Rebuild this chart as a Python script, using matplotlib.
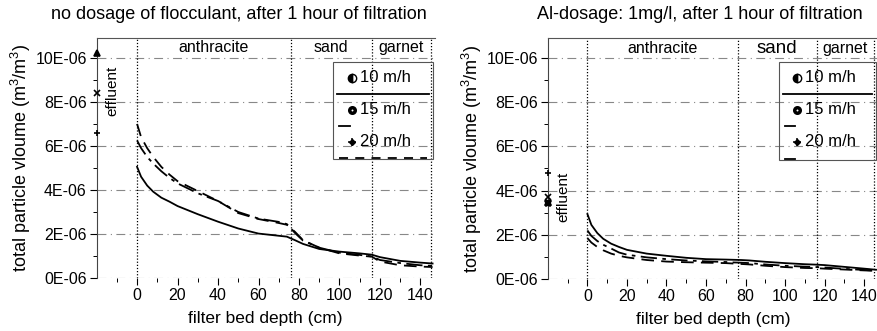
import matplotlib
matplotlib.use("Agg")
import matplotlib.pyplot as plt
from matplotlib.ticker import FixedLocator, FuncFormatter
from matplotlib.patches import Rectangle

plt.rcParams['font.family'] = ['Liberation Sans', 'DejaVu Sans']
plt.rcParams['mathtext.fontset'] = 'custom'
plt.rcParams['mathtext.rm'] = 'Liberation Sans'
plt.rcParams['mathtext.it'] = 'Liberation Sans'

# ---------------- data ----------------
depth = [0, 2, 5, 8, 12, 16, 20, 30, 40, 50, 60, 70, 74, 78, 82, 90, 100, 110, 116, 120, 130, 140, 146]

# left panel: no dosage of flocculant (values in 1E-06 m3/m3)
left_10 = [5.05, 4.6, 4.2, 3.92, 3.65, 3.47, 3.27, 2.9, 2.56, 2.25, 2.02, 1.92, 1.88, 1.72, 1.55, 1.32, 1.2, 1.12, 1.06, 0.95, 0.78, 0.7, 0.66]
left_15 = [6.25, 5.9, 5.5, 5.2, 4.85, 4.55, 4.3, 3.85, 3.5, 3.0, 2.7, 2.55, 2.45, 2.05, 1.7, 1.38, 1.15, 1.05, 0.98, 0.82, 0.68, 0.58, 0.55]
left_20 = [7.0, 6.4, 5.9, 5.5, 5.05, 4.7, 4.4, 3.95, 3.5, 2.95, 2.68, 2.5, 2.42, 2.1, 1.72, 1.38, 1.12, 1.02, 0.97, 0.75, 0.58, 0.52, 0.5]

# right panel: Al-dosage 1 mg/l
right_10 = [2.94, 2.45, 2.08, 1.82, 1.6, 1.45, 1.32, 1.15, 1.05, 0.96, 0.9, 0.88, 0.87, 0.86, 0.84, 0.78, 0.72, 0.67, 0.65, 0.63, 0.55, 0.47, 0.42]
right_15 = [2.2, 1.95, 1.72, 1.55, 1.38, 1.2, 1.1, 0.98, 0.9, 0.84, 0.8, 0.77, 0.75, 0.74, 0.72, 0.66, 0.6, 0.56, 0.54, 0.52, 0.46, 0.41, 0.38]
right_20 = [1.85, 1.65, 1.45, 1.3, 1.15, 1.05, 0.98, 0.86, 0.79, 0.76, 0.74, 0.72, 0.7, 0.68, 0.66, 0.6, 0.54, 0.5, 0.49, 0.47, 0.43, 0.39, 0.37]

# effluent values (1E-06 m3/m3)
left_effluent = [10.2, 8.4, 6.6]
right_effluent = [4.8, 3.7, 3.45]
effluent_markers = ['^', 'x', '+']
right_effluent_markers = ['+', 'x', 'X']

series_labels = ['10 m/h', '15 m/h', '20 m/h']
layers = ['anthracite', 'sand', 'garnet']
layer_bounds = [0, 76, 116, 145]
xticks = [0, 20, 40, 60, 80, 100, 120, 140]
yticks = [0, 2, 4, 6, 8, 10]

titles = ['no dosage of flocculant, after 1 hour of filtration',
          'Al-dosage: 1mg/l, after 1 hour of filtration']

scale = 1e-6
styles = ['-', (0, (9, 3, 2, 3)), (0, (7, 4))]

fig = plt.figure(figsize=(8.78, 3.31), dpi=100)
axL = fig.add_axes([0.110, 0.160, 0.385, 0.725])
axR = fig.add_axes([0.624, 0.157, 0.376, 0.728])

def setup(ax, data, eff, eff_markers, title, tx, eff_y, sand_big, leg_short):
    for vals, ls in zip(data, styles):
        ax.plot(depth, [v * scale for v in vals], color='black', lw=1.3, linestyle=ls)
    for v, m in zip(eff, eff_markers):
        ax.plot([-20], [v * scale], marker=m, color='black', ms=5, mew=1.2, clip_on=False, zorder=5)
    ax.set_xlim(-20, 147)
    ax.set_ylim(0, 10.9e-6)
    ax.xaxis.set_major_locator(FixedLocator(xticks))
    ax.xaxis.set_minor_locator(FixedLocator(list(range(-10, 150, 10))))
    ax.yaxis.set_major_locator(FixedLocator([t * scale for t in yticks]))
    ax.yaxis.set_minor_locator(FixedLocator([t * scale for t in [1, 3, 5, 7, 9]]))
    ax.yaxis.set_major_formatter(FuncFormatter(lambda v, p: f"{int(round(v / scale))}E-06"))
    ax.tick_params(axis='both', which='major', direction='out', length=5, width=0.8, labelsize=11.5, colors='black', pad=2)
    ax.tick_params(axis='both', which='minor', direction='out', length=3, width=0.7)
    for s in ['right', 'bottom']:
        ax.spines[s].set_visible(False)
    ax.spines['top'].set_color('#555555')
    ax.spines['top'].set_linewidth(0.8)
    ax.spines['left'].set_color('#444444')
    for t in yticks:
        ax.axhline(t * scale, color='#888888', lw=0.8, linestyle=(0, (8, 4, 1, 4)), zorder=0)
    for b in layer_bounds:
        ax.axvline(b, color='black', lw=0.9, linestyle=(0, (1, 1.5)), zorder=1)
    # layer labels
    for i, name in enumerate(layers):
        xm = (layer_bounds[i] + layer_bounds[i + 1]) / 2
        fs = 13.5 if (sand_big and name == 'sand') else 11.5
        ax.text(xm, 10.45e-6, name, ha='center', va='center', fontsize=fs)
    ax.text(-12, eff_y * scale, 'effluent', rotation=90, ha='center', va='center', fontsize=11)
    ax.set_xlabel('filter bed depth (cm)', fontsize=12.5, labelpad=6)
    ax.set_ylabel('total particle vloume (m$^3$/m$^3$)', fontsize=13, labelpad=2)
    fig.text(tx, 0.955, title, ha='center', va='center', fontsize=13)
    # Origin-style legend box
    x0, x1 = 97, 146
    ytop, ybot = 9.8, 5.4
    ax.add_patch(Rectangle((x0, ybot * scale), x1 - x0, (ytop - ybot) * scale, fill=False,
                           edgecolor='#555555', lw=0.8, zorder=4, clip_on=False))
    rows = [9.1, 7.65, 6.2]
    for j, (lab, ls, ry) in enumerate(zip(series_labels, styles, rows)):
        mx = x0 + 9
        if j == 0:
            ax.plot([mx], [ry * scale], marker='o', ms=6, color='black', fillstyle='left', mew=1, zorder=5)
        elif j == 1:
            ax.plot([mx], [ry * scale], marker='o', ms=6.5, color='black', mew=0, zorder=5)
            ax.plot([mx], [ry * scale], marker='o', ms=1.4, color='white', mew=0, zorder=6)
        else:
            ax.plot([mx], [ry * scale], marker='+', ms=6, color='black', mew=1.1, zorder=5)
            ax.plot([mx], [ry * scale], marker='D', ms=3, color='black', zorder=6)
        ax.text(mx + 4, ry * scale, lab, ha='left', va='center', fontsize=12, zorder=6)
        ly = (ry - 0.75) * scale
        if j == 0:
            ax.plot([x0 + 2, x1 - 2], [ly, ly], color='black', lw=1.3, zorder=5)
        elif j == 1 or leg_short:
            ax.plot([x0 + 3, x0 + 8], [ly, ly], color='black', lw=1.3, zorder=5)
        else:
            ax.plot([x0 + 3, x1 - 3], [ly, ly], color='black', lw=1.3, linestyle=(0, (5, 4)), zorder=5)

setup(axL, [left_10, left_15, left_20], left_effluent, effluent_markers, titles[0], 0.272, 8.5, False, False)
setup(axR, [right_10, right_15, right_20], right_effluent, right_effluent_markers, titles[1], 0.797, 3.7, True, True)

fig.savefig('out.png', dpi=100)
